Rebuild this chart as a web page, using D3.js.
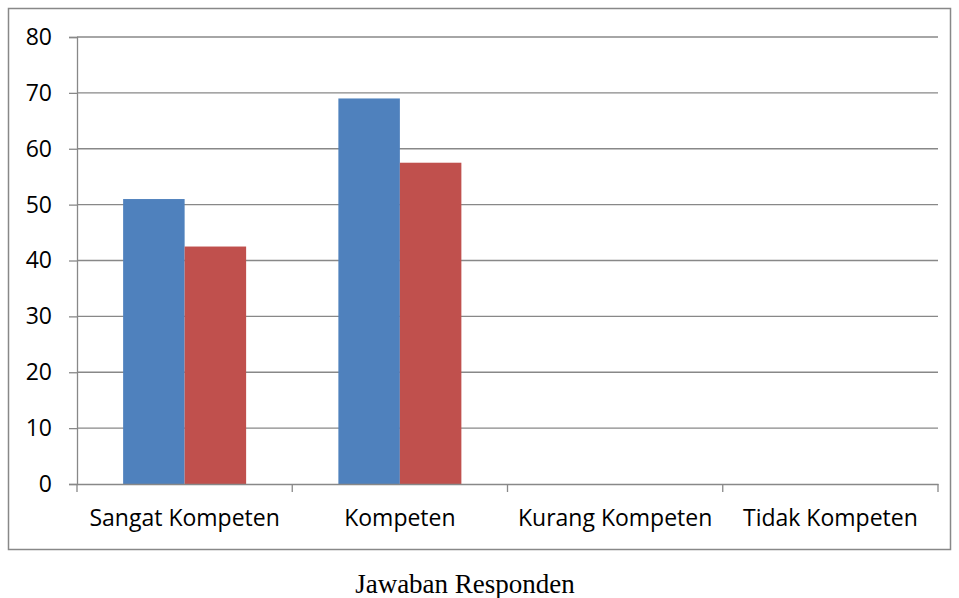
<!DOCTYPE html>
<html><head><meta charset="utf-8">
<script src="https://cdn.jsdelivr.net/npm/d3@7"></script>
<style>body{margin:0;background:#fff}svg{display:block}</style>
</head><body>
<svg id="c" width="959" height="598"></svg>
<script>
const categories = ["Sangat Kompeten", "Kompeten", "Kurang Kompeten", "Tidak Kompeten"];
const seriesNames = ["Frekuensi", "Persentase"];
const frekuensi = [51, 69, 0, 0];
const persentase = [42.5, 57.5, 0, 0];
const yTicks = [0, 10, 20, 30, 40, 50, 60, 70, 80];
const xTitle = "Jawaban Responden";
const colors = ["#4F81BD", "#C0504D"];

const svg = d3.select("#c");
const L = 77, R = 938, T = 37, B = 484;
const gridColor = "#888888";

svg.append("rect").attr("x", 8.5).attr("y", 8.5).attr("width", 942).attr("height", 541)
  .attr("fill", "none").attr("stroke", gridColor).attr("stroke-width", 1.5);

const y = d3.scaleLinear().domain([0, 80]).range([B, T]);
const x0 = d3.scaleBand().domain(categories).range([L, R]).padding(0);
const bw = x0.bandwidth();
const gap = bw * 0.75 / 1.75;
const x1 = d3.scaleBand().domain(seriesNames).range([gap / 2, bw - gap / 2]).padding(0);

// gridlines
svg.append("g").selectAll("line").data(yTicks.filter(d => d > 0)).join("line")
  .attr("x1", L).attr("x2", R).attr("y1", d => y(d)).attr("y2", d => y(d))
  .attr("stroke", gridColor).attr("stroke-width", 1.3);

// bars
const data = categories.map((c, i) => ({ c, vals: [frekuensi[i], persentase[i]] }));
const g = svg.append("g");
data.forEach(d => {
  d.vals.forEach((v, j) => {
    if (v <= 0) return;
    g.append("rect")
      .attr("x", x0(d.c) + x1(seriesNames[j]))
      .attr("y", y(v))
      .attr("width", x1.bandwidth())
      .attr("height", y(0) - y(v))
      .attr("fill", colors[j]);
  });
});

// y axis
const yAxis = d3.axisLeft(y).tickValues(yTicks).tickSize(8).tickPadding(17).tickFormat(d3.format("d"));
const ya = svg.append("g").attr("transform", `translate(${L},0)`).call(yAxis);
ya.selectAll("path,line").attr("stroke", gridColor).attr("stroke-width", 1.3);
ya.selectAll("text").attr("font-family", "'Open Sans', sans-serif").attr("font-size", 23).attr("fill", "#000");

// x axis
const xAxis = d3.axisBottom(x0).tickSize(0).tickPadding(26);
const xa = svg.append("g").attr("transform", `translate(0,${B})`).call(xAxis);
xa.select("path").attr("stroke", gridColor).attr("stroke-width", 1.3);
xa.selectAll("text").attr("font-family", "'Open Sans', sans-serif").attr("font-size", 23).attr("fill", "#000");
// boundary ticks
const bounds = categories.map(c => x0(c)).concat([R]);
svg.append("g").selectAll("line").data(bounds).join("line")
  .attr("x1", d => d).attr("x2", d => d).attr("y1", B).attr("y2", B + 8)
  .attr("stroke", gridColor).attr("stroke-width", 1.3);

svg.append("text").attr("x", 465).attr("y", 593).attr("text-anchor", "middle")
  .attr("font-family", "'Liberation Serif', 'Times New Roman', serif").attr("font-size", 27)
  .text(xTitle);
</script>
</body></html>
